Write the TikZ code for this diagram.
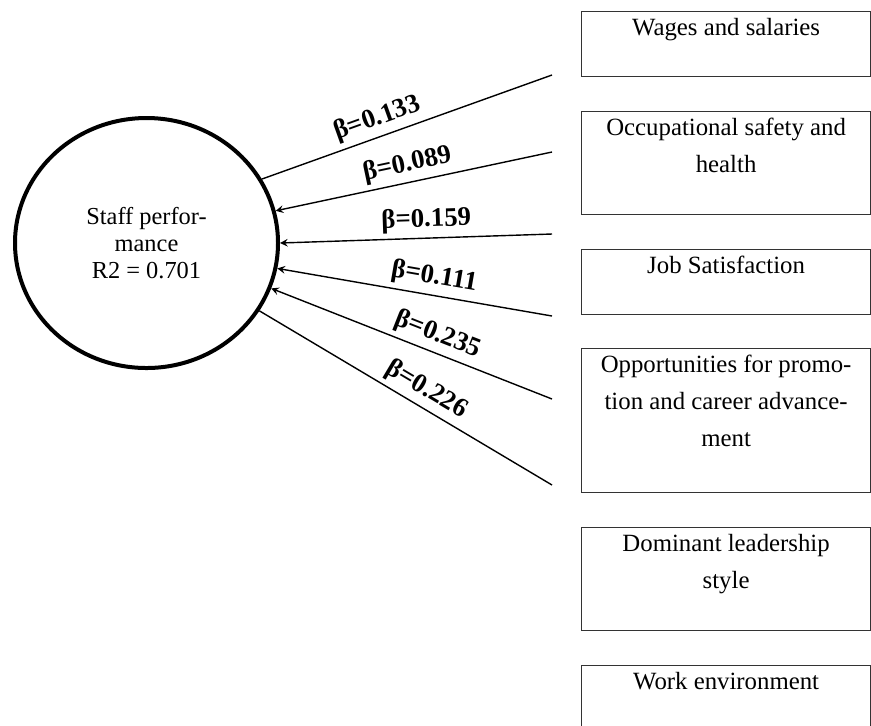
\documentclass[tikz,border=0pt]{standalone}
\usepackage{fontspec}
\setmainfont{Liberation Serif}
\usetikzlibrary{shapes.geometric}
\begin{document}
\begin{tikzpicture}[x=0.5pt, y=-0.5pt,
    factor/.style={draw=black!80, line width=0.6pt, anchor=north west, inner sep=0pt,
      text width=144.5pt, align=flush center, text height=12pt,
      font=\fontsize{12.4}{18.5}\selectfont},
    link/.style={line width=0.7pt},
    beta/.style={sloped, above, inner sep=2.5pt, font=\fontsize{13.4}{15}\selectfont\bfseries}]
  \useasboundingbox (0,0) rectangle (871,725);
  \clip (0,0) rectangle (871,725);

  % Dependent variable
  \node[draw, ellipse, line width=2pt, minimum width=131.5pt, minimum height=125pt,
    inner sep=0pt, align=center, font=\fontsize{12.2}{13.5}\selectfont]
    (sp) at (146.5,243) {Staff perfor-\\mance\\R2 = 0.701};

  % Factor boxes on the right
  \node[factor, text depth=20.5pt] (wages) at (581,11) {Wages and salaries};
  \node[factor, text depth=39.5pt] (safety) at (581,111) {Occupational safety and\\health};
  \node[factor, text depth=20.5pt] (jobsat) at (581,249) {Job Satisfaction};
  \node[factor, text depth=60pt] (promo) at (581,348) {Opportunities for promo-\\tion and career advance-\\ment};
  \node[factor, text depth=39.5pt] (leader) at (581,527) {Dominant leadership\\style};
  \node[factor, text depth=20.5pt] (workenv) at (581,665) {Work environment};

  % Loose ends of the paths
  \coordinate (in1) at (552,75);
  \coordinate (in2) at (552,152);
  \coordinate (in3) at (552,234);
  \coordinate (in4) at (552,316);
  \coordinate (in5) at (552,399);
  \coordinate (in6) at (552,485);

  % Paths with coefficients
  \draw[link] (sp.29) -- node[beta, pos=.42] {β=0.133} (in1);
  \draw[link, stealth-] (sp.14.4) -- node[beta, pos=.49] {β=0.089} (in2);
  \draw[link, stealth-] (sp.0) -- node[beta, pos=.54] {β=0.159} (in3);
  \draw[link, stealth-] (sp.-11.2) -- node[beta, pos=.56] {β=0.111} (in4);
  \draw[link, stealth-] (sp.-20.7) -- node[beta, pos=.57] {β=0.235} (in5);
  \draw[link] (sp.-31.9) -- node[beta, pos=.54] {β=0.226} (in6);
\end{tikzpicture}
\end{document}
